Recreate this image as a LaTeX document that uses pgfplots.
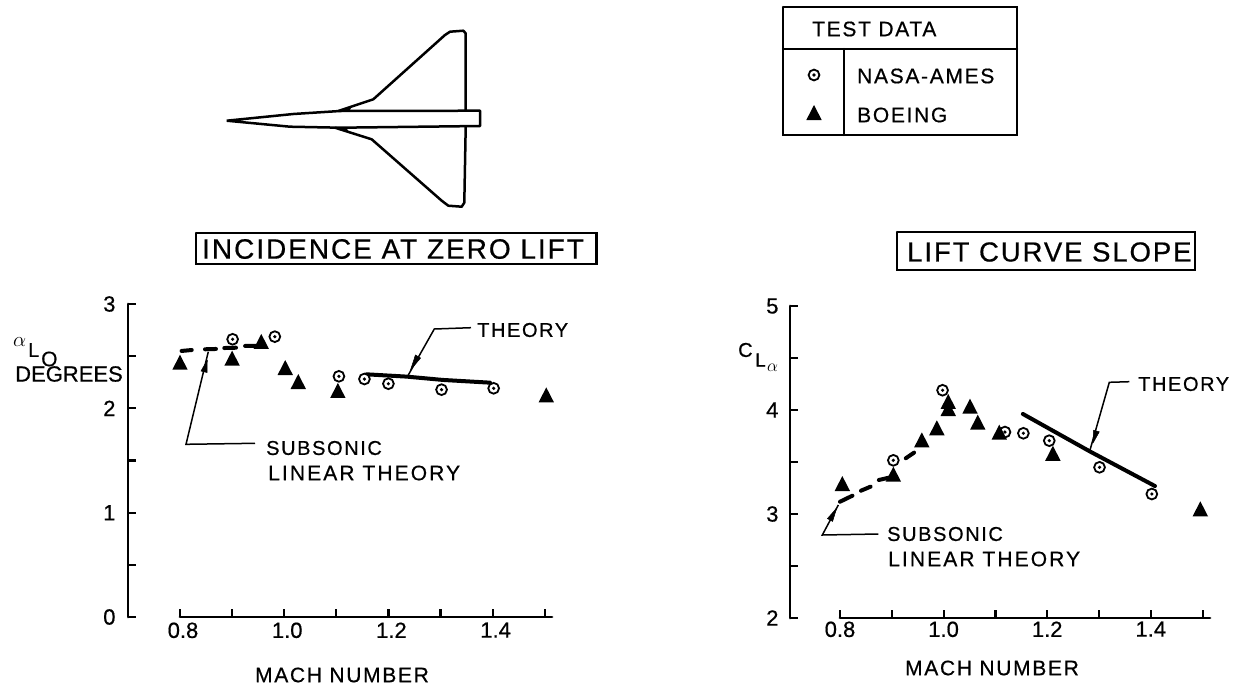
\documentclass[border=0pt]{standalone}
\usepackage{pgfplots}
\pgfplotsset{compat=1.18}
\usepackage{fontspec}
\setmainfont[FakeBold=0.6]{Liberation Sans}
\newfontfamily\ls[LetterSpace=8,FakeBold=0.6]{Liberation Sans}
\newfontfamily\lw[LetterSpace=10,FakeBold=0.6]{Liberation Sans}
\newfontfamily\lt[LetterSpace=7,FakeBold=0.6]{Liberation Sans}
\newcommand{\fs}[1]{\fontsize{#1}{#1}\selectfont}
\pgfdeclareplotmark{tri}{%
  \pgfpathmoveto{\pgfqpoint{0pt}{10pt}}%
  \pgfpathlineto{\pgfqpoint{7.7pt}{-5pt}}%
  \pgfpathlineto{\pgfqpoint{-7.7pt}{-5pt}}%
  \pgfpathclose\pgfsetfillcolor{black}\pgfusepathqfill}
\pgfdeclareplotmark{codot}{%
  \pgfsetlinewidth{1.8pt}%
  \pgfsetstrokecolor{black}\pgfsetfillcolor{white}%
  \pgfpathcircle{\pgfpointorigin}{5.4pt}\pgfusepathqfillstroke
  \pgfsetfillcolor{black}%
  \pgfpathcircle{\pgfpointorigin}{1.8pt}\pgfusepathqfill}
\pgfplotsset{
  panel/.style={
    scale only axis, clip=false,
    axis x line*=bottom, axis y line*=left,
    axis line style={draw=none},
    tick align=inside, major tick length=8pt,
    every major tick/.append style={black,line width=2.2pt},
    tick style={black,line width=2.2pt},
    xtick={0.8,0.9,1.0,1.1,1.2,1.3,1.4,1.5},
    xticklabels={0.8,,1.0,,1.2,,1.4,},
    tick label style={font=\fs{22}},
    /pgf/number format/assume math mode=true,
  },
  spine/.style={black,line width=2.8pt,no marks,forget plot,line cap=round},
  stub/.style={black,line width=2.2pt,no marks,forget plot,unbounded coords=jump},
  thy/.style={black,line width=4pt,no marks,forget plot,line cap=round},
  dsh/.style={black,line width=4pt,no marks,forget plot,line cap=round,unbounded coords=jump},
  lead/.style={black,line width=1.5pt,no marks,forget plot},
  head/.style={black,fill=black,line width=0.5pt,no marks,forget plot},
  wire/.style={black,line width=2.5pt,no marks,forget plot,line join=round},
  boxl/.style={black,line width=2.5pt,no marks,forget plot,line cap=round},
}
\begin{document}
\begin{tikzpicture}[x=1pt,y=1pt]
\path[use as bounding box] (0,0) rectangle (1244pt,699pt);

% ---- left panel
\begin{axis}[panel, at={(128pt,82pt)}, anchor=south west,
  width=424pt, height=313pt,
  xmin=0.7002, xmax=1.514, ymin=0, ymax=3,
  ytick={0,0.5,1,1.5,2,2.5,3}, yticklabels={0,,1,,2,,3},
  xticklabel style={xshift=3pt,yshift=-2pt},
  yticklabel style={xshift=-9pt}]
\addplot[spine] coordinates {(0.7002,0) (0.7002,3)};
\addplot[spine] coordinates {(0.8,0) (1.514,0)};
\addplot[stub] coordinates {(0.8,0) (0.8,0.08) (nan,nan) (0.9,0) (0.9,0.08) (nan,nan)
 (1.0,0) (1.0,0.08) (nan,nan) (1.1,0) (1.1,0.08) (nan,nan) (1.2,0) (1.2,0.08) (nan,nan)
 (1.3,0) (1.3,0.08) (nan,nan) (1.4,0) (1.4,0.08) (nan,nan) (1.5,0) (1.5,0.08)};
\addplot[only marks,mark=codot] coordinates {
 (0.901,2.662) (0.982,2.687) (1.105,2.307) (1.154,2.281)
 (1.2,2.236) (1.302,2.179) (1.402,2.192)};
\addplot[only marks,mark=tri] coordinates {
 (0.80,2.418) (0.90,2.457) (0.956,2.617) (1.002,2.367)
 (1.027,2.233) (1.103,2.147) (1.503,2.105)};
\addplot[thy] coordinates {(1.158,2.326) (1.235,2.304) (1.305,2.272) (1.395,2.246)};
\addplot[dsh] coordinates {(0.803,2.55) (0.8225,2.559) (nan,nan)
 (0.848,2.566) (0.869,2.569) (nan,nan)
 (0.885,2.578) (0.9075,2.581) (nan,nan)
 (0.925,2.598) (0.959,2.600)};
\end{axis}

% ---- right panel
\begin{axis}[panel, at={(790pt,81pt)}, anchor=south west,
  width=420pt, height=312pt,
  xmin=0.7035, xmax=1.5143, ymin=2, ymax=5,
  ytick={2,2.5,3,3.5,4,4.5,5}, yticklabels={2,,3,,4,,5},
  yticklabel style={xshift=-8pt}]
\addplot[spine] coordinates {(0.7035,2) (0.7035,5)};
\addplot[spine] coordinates {(0.8,2) (1.5143,2)};
\addplot[stub] coordinates {(0.8,2) (0.8,2.08) (nan,nan) (0.9,2) (0.9,2.08) (nan,nan)
 (1.0,2) (1.0,2.08) (nan,nan) (1.1,2) (1.1,2.08) (nan,nan) (1.2,2) (1.2,2.08) (nan,nan)
 (1.3,2) (1.3,2.08) (nan,nan) (1.4,2) (1.4,2.08) (nan,nan) (1.5,2) (1.5,2.08)};
\addplot[only marks,mark=codot] coordinates {
 (0.998,4.19) (0.903,3.516) (1.1185,3.788) (1.154,3.776)
 (1.204,3.705) (1.301,3.449) (1.402,3.192)};
\addplot[only marks,mark=tri] coordinates {
 (0.8045,3.269) (0.903,3.359) (0.958,3.689) (0.987,3.805)
 (1.009,4.058) (1.009,3.99) (1.051,4.013) (1.066,3.859)
 (1.1075,3.763) (1.211,3.56) (1.4956,3.026)};
\addplot[thy] coordinates {(1.153,3.962) (1.283,3.6) (1.408,3.269)};
\addplot[dsh] coordinates {(0.8,3.118) (0.824,3.176) (nan,nan)
 (0.8405,3.224) (0.859,3.263) (nan,nan)
 (0.875,3.327) (0.903,3.359) (nan,nan)
 (0.927,3.536) (0.943,3.59)};
\end{axis}

% ---- overlay in picture pixels
\begin{axis}[at={(0pt,0pt)}, anchor=south west, scale only axis,
  width=1244pt, height=699pt, xmin=0, xmax=1244, ymin=0, ymax=699,
  y dir=reverse, hide axis, clip=false]
% aircraft
\addplot[wire] coordinates {(226.7,120.7) (293.3,114) (340,111) (480,110.7) (480,126) (340,127.7) (290,126.7) (226.7,120.7)};
\addplot[wire] coordinates {(338.3,111) (373.3,99.3) (445,35) (450,31.7) (463.3,30.7) (465.7,33.3) (465.7,110.7)};
\addplot[wire] coordinates {(335,127.7) (371.7,139.3) (441.7,200.7) (448.3,205.7) (461.7,206.7) (464.3,202.7) (465.7,126.7)};
\addplot[head] coordinates {(338,111) (351,107) (349,111.5) (338,111)};
\addplot[head] coordinates {(335,127.7) (348,131.5) (346,127.5) (335,127.7)};
% legend box
\addplot[boxl] coordinates {(783,7) (1017,7) (1017,135) (783,135) (783,7)};
\addplot[boxl] coordinates {(783,49) (1017,49)};
\addplot[boxl] coordinates {(844,49) (844,135)};
\addplot[only marks,mark=codot,forget plot] coordinates {(814,75)};
\addplot[only marks,mark=tri,forget plot] coordinates {(814,115)};
\node[anchor=west,inner sep=0] at (812,29) {\ls\fs{21}TEST DATA};
\node[anchor=west,inner sep=0] at (857,76) {\ls\fs{21}NASA-AMES};
\node[anchor=west,inner sep=0] at (857,115) {\ls\fs{21}BOEING};
% titles
\addplot[boxl] coordinates {(196,233) (596.7,233) (596.7,264) (196,264) (196,233)};
\node[anchor=west,inner sep=0] at (202,249) {\lt\fs{28}INCIDENCE AT ZERO LIFT};
\addplot[boxl] coordinates {(897,232) (1195,232) (1195,270) (897,270) (897,232)};
\node[anchor=west,inner sep=0] at (907,252) {\lt\fs{27.5}LIFT CURVE SLOPE};
% axis names
\node[inner sep=0] at (342,675) {\ls\fs{21}MACH NUMBER};
\node[inner sep=0] at (992,668) {\ls\fs{21}MACH NUMBER};
\node[anchor=west,inner sep=0] at (15,374) {\fs{22}DEGREES};
\node[anchor=west,inner sep=0] at (13,342) {\fs{22}$\alpha$};
\node[anchor=west,inner sep=0] at (28,350) {\fs{20}L};
\node[anchor=west,inner sep=0] at (41,359) {\fs{21}O};
\node[anchor=west,inner sep=0] at (738,350) {\fs{20}C};
\node[anchor=west,inner sep=0] at (755,360) {\fs{19}L};
\node[anchor=west,inner sep=0] at (767,368) {\fs{18}$\alpha$};
% annotations left
\node[anchor=west,inner sep=0] at (477,330) {\ls\fs{20}THEORY};
\node[anchor=west,inner sep=0] at (266,448) {\ls\fs{20}SUBSONIC};
\node[anchor=west,inner sep=0] at (268,473) {\lw\fs{21}LINEAR THEORY};
\addplot[lead] coordinates {(471,327.7) (434.3,329) (408.3,375)};
\addplot[head] coordinates {(410.5,370) (420.6,358) (415.4,355) (410.5,370)};
\addplot[lead] coordinates {(255,443.3) (186,444.3) (208.3,351.7)};
\addplot[head] coordinates {(207.3,360) (201,371) (207,372.5) (207.3,360)};
% annotations right
\node[anchor=west,inner sep=0] at (1138,384) {\ls\fs{20}THEORY};
\node[anchor=west,inner sep=0] at (887,534) {\ls\fs{20}SUBSONIC};
\node[anchor=west,inner sep=0] at (888,559) {\lw\fs{21}LINEAR THEORY};
\addplot[lead] coordinates {(1129.3,381.7) (1109.3,382.3) (1090,450)};
\addplot[head] coordinates {(1093,443) (1099.3,431.8) (1093.5,430.2) (1093,443)};
\addplot[lead] coordinates {(878.3,534) (822.3,535) (838.3,505)};
\addplot[head] coordinates {(836.7,508) (832.6,521.4) (827.4,518.6) (836.7,508)};
\end{axis}
\end{tikzpicture}
\end{document}
